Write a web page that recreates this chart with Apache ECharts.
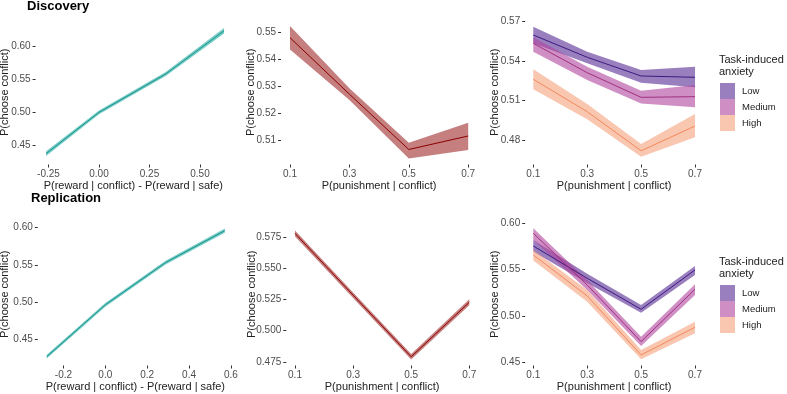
<!DOCTYPE html>
<html>
<head>
<meta charset="utf-8">
<script src="https://cdn.jsdelivr.net/npm/echarts@6/dist/echarts.min.js"></script>
<style>
  html, body { margin: 0; padding: 0; background: #fff; }
  #main { width: 787px; height: 394px; }
</style>
</head>
<body>
<div id="main"></div>
<script>
// x values
const punishX = [0.1, 0.3, 0.5, 0.7];
const discRewardX = [-0.262, 0.0, 0.33, 0.619];
const repRewardX = [-0.28, 0.0, 0.288, 0.571];

// Discovery
const discRewardY = [0.4379, 0.5005, 0.5586, 0.6242];
const discRewardLo = [0.4344, 0.4975, 0.5556, 0.6200];
const discRewardHi = [0.4414, 0.5035, 0.5616, 0.6284];

const discPunishY = [0.548, 0.5271, 0.5066, 0.5116];
const discPunishLo = [0.5436, 0.5249, 0.5033, 0.5064];
const discPunishHi = [0.5523, 0.5293, 0.5091, 0.5165];

const discLowY = [0.5599, 0.543, 0.5288, 0.5278];
const discLowLo = [0.5536, 0.5384, 0.5237, 0.5202];
const discLowHi = [0.5662, 0.5472, 0.5333, 0.5358];
const discMedY = [0.5536, 0.5313, 0.5126, 0.5131];
const discMedLo = [0.5472, 0.5257, 0.5080, 0.5050];
const discMedHi = [0.5582, 0.5358, 0.5176, 0.5219];
const discHighY = [0.5263, 0.5017, 0.4720, 0.4908];
const discHighLo = [0.5187, 0.4959, 0.4675, 0.4822];
const discHighHi = [0.5339, 0.5075, 0.4771, 0.4999];

// Replication
const repRewardY = [0.4266, 0.4964, 0.5531, 0.5960];
const repRewardLo = [0.4241, 0.4939, 0.5506, 0.5932];
const repRewardHi = [0.4291, 0.4989, 0.5556, 0.5988];

const repPunishY = [0.5777, 0.5283, 0.479, 0.5226];
const repPunishLo = [0.5753, 0.5261, 0.4768, 0.5202];
const repPunishHi = [0.5801, 0.5305, 0.4812, 0.5250];

const repLowY = [0.5755, 0.5406, 0.5071, 0.5496];
const repLowLo = [0.5693, 0.5356, 0.5035, 0.5442];
const repLowHi = [0.582, 0.5456, 0.5118, 0.5539];
const repMedY = [0.5892, 0.5334, 0.4722, 0.5287];
const repMedLo = [0.582, 0.528, 0.4675, 0.5226];
const repMedHi = [0.5946, 0.5388, 0.4775, 0.5341];
const repHighY = [0.5658, 0.5215, 0.4578, 0.4877];
const repHighLo = [0.5597, 0.5153, 0.4531, 0.4812];
const repHighHi = [0.5712, 0.528, 0.4632, 0.4937];

// tick labels
const rewardTicksDisc = [-0.25, 0, 0.25, 0.5];
const rewardTicksRep = [-0.2, 0, 0.2, 0.4, 0.6];
const punishTicks = [0.1, 0.3, 0.5, 0.7];
const yTicks1 = [0.45, 0.5, 0.55, 0.6];
const yTicks2 = [0.51, 0.52, 0.53, 0.54, 0.55];
const yTicks3 = [0.48, 0.51, 0.54, 0.57];
const yTicks4 = [0.45, 0.5, 0.55, 0.6];
const yTicks5 = [0.475, 0.5, 0.525, 0.55, 0.575];
const yTicks6 = [0.45, 0.5, 0.55, 0.6];

const groups = ['Low', 'Medium', 'High'];

const FONT = 'Liberation Sans, Arial, sans-serif';
const REWARD_NAME = 'P(reward | conflict) - P(reward | safe)';
const PUNISH_NAME = 'P(punishment | conflict)';

function xAxisFor(gridIndex, min, max, ticks, dec, name) {
    return {
        type: 'value', gridIndex: gridIndex, min: min, max: max,
        name: name, nameLocation: 'middle', nameGap: 16, nameMoveOverlap: false,
        nameTextStyle: { fontFamily: FONT, fontSize: 11, color: '#222', verticalAlign: 'top' },
        axisLine: { show: false, onZero: false },
        splitLine: { show: false },
        axisTick: { show: true, length: 3, customValues: ticks, lineStyle: { color: '#333' } },
        axisLabel: {
            customValues: ticks, margin: 5,
            fontFamily: FONT, fontSize: 10, color: '#4d4d4d',
            formatter: v => v.toFixed(dec)
        }
    };
}

function yAxisFor(gridIndex, min, max, ticks, dec, gap) {
    return {
        type: 'value', gridIndex: gridIndex, min: min, max: max,
        name: 'P(choose conflict)', nameLocation: 'middle', nameGap: gap, nameMoveOverlap: false,
        nameTextStyle: { fontFamily: FONT, fontSize: 11, color: '#222' },
        axisLine: { show: false, onZero: false },
        splitLine: { show: false },
        axisTick: { show: true, length: 3, customValues: ticks, lineStyle: { color: '#333' } },
        axisLabel: {
            customValues: ticks, margin: 5,
            fontFamily: FONT, fontSize: 10, color: '#4d4d4d',
            formatter: v => v.toFixed(dec)
        }
    };
}

// ribbon drawn as one polygon through the axis scales
function ribbon(axisIndex, xs, lo, hi, fill, name, keyColor) {
    return {
        type: 'custom',
        name: name,
        xAxisIndex: axisIndex, yAxisIndex: axisIndex,
        itemStyle: { color: keyColor || fill },
        data: xs.map((x, i) => [x, lo[i], hi[i]]),
        encode: { x: 0, y: [1, 2] },
        silent: true,
        z: 1,
        renderItem: function(params, api) {
            if (params.dataIndex !== 0) return null;
            let pts = [];
            for (let i = 0; i < xs.length; i++) pts.push(api.coord([xs[i], hi[i]]));
            for (let i = xs.length - 1; i >= 0; i--) pts.push(api.coord([xs[i], lo[i]]));
            return { type: 'polygon', shape: { points: pts }, style: { fill: fill } };
        }
    };
}

function line(axisIndex, xs, ys, color) {
    return {
        type: 'line',
        xAxisIndex: axisIndex, yAxisIndex: axisIndex,
        data: xs.map((x, i) => [x, ys[i]]),
        showSymbol: false,
        silent: true,
        z: 3,
        lineStyle: { color: color, width: 1 },
        itemStyle: { color: color }
    };
}

const teal = 'rgba(30,172,162,0.6)', tealLine = '#17918b';
const red = 'rgba(139,0,0,0.5)', redLine = '#8b0000';
const fills = ['rgba(87,42,148,0.6)', 'rgba(175,68,157,0.6)', 'rgba(245,160,123,0.6)'];
const keys = ['#9a7fbf', '#cf8fc4', '#f9c6b0'];
const lines = ['#3d1a80', '#a0307f', '#f4895c'];

const discAnx = [[discLowY, discLowLo, discLowHi], [discMedY, discMedLo, discMedHi], [discHighY, discHighLo, discHighHi]];
const repAnx = [[repLowY, repLowLo, repLowHi], [repMedY, repMedLo, repMedHi], [repHighY, repHighLo, repHighHi]];

let series = [
    ribbon(0, discRewardX, discRewardLo, discRewardHi, teal, 'reward1'),
    line(0, discRewardX, discRewardY, tealLine),
    ribbon(1, punishX, discPunishLo, discPunishHi, red, 'punish1'),
    line(1, punishX, discPunishY, redLine),
    ribbon(3, repRewardX, repRewardLo, repRewardHi, teal, 'reward2'),
    line(3, repRewardX, repRewardY, tealLine),
    ribbon(4, punishX, repPunishLo, repPunishHi, red, 'punish2'),
    line(4, punishX, repPunishY, redLine)
];
groups.forEach((g, k) => {
    series.push(ribbon(2, punishX, discAnx[k][1], discAnx[k][2], fills[k], g, keys[k]));
    series.push(ribbon(5, punishX, repAnx[k][1], repAnx[k][2], fills[k], g, keys[k]));
});
groups.forEach((g, k) => {
    series.push(line(2, punishX, discAnx[k][0], lines[k]));
    series.push(line(5, punishX, repAnx[k][0], lines[k]));
});

function legendFor(top) {
    return {
        data: groups, orient: 'vertical', left: 720, top: top,
        icon: 'rect', itemWidth: 15, itemHeight: 16, itemGap: 0, padding: 0,
        selectedMode: false,
        textStyle: { fontFamily: FONT, fontSize: 9.5, color: '#222', padding: [0, 0, 0, 2] }
    };
}

let myChart = echarts.init(document.getElementById('main'), null, { renderer: 'canvas' });
myChart.setOption({
    animation: false,
    backgroundColor: '#fff',
    title: [
        { text: 'Discovery', left: 27, top: 0, padding: 0, textStyle: { fontFamily: FONT, fontSize: 13, fontWeight: 'bold', color: '#000' } },
        { text: 'Replication', left: 31, top: 192, padding: 0, textStyle: { fontFamily: FONT, fontSize: 13, fontWeight: 'bold', color: '#000' } },
        { text: 'Task-induced\nanxiety', left: 719, top: 54, padding: 0, textStyle: { fontFamily: FONT, fontSize: 11, fontWeight: 'normal', color: '#222', lineHeight: 12 } },
        { text: 'Task-induced\nanxiety', left: 719, top: 256, padding: 0, textStyle: { fontFamily: FONT, fontSize: 11, fontWeight: 'normal', color: '#222', lineHeight: 12 } }
    ],
    legend: [legendFor(83), legendFor(285)],
    grid: [
        { left: 35.6, top: 20, width: 195.4, height: 144.5, outerBoundsMode: 'none' },
        { left: 281, top: 20, width: 196.2, height: 144.5, outerBoundsMode: 'none' },
        { left: 525.2, top: 20, width: 177.9, height: 144.5, outerBoundsMode: 'none' },
        { left: 37.8, top: 223, width: 195.1, height: 142.5, outerBoundsMode: 'none' },
        { left: 286.3, top: 223, width: 191.7, height: 142.5, outerBoundsMode: 'none' },
        { left: 525.2, top: 223, width: 177.9, height: 142.5, outerBoundsMode: 'none' }
    ],
    xAxis: [
        xAxisFor(0, -0.3139, 0.6535, rewardTicksDisc, 2, REWARD_NAME),
        xAxisFor(1, 0.0697, 0.7303, punishTicks, 1, PUNISH_NAME),
        xAxisFor(2, 0.07, 0.73, punishTicks, 1, PUNISH_NAME),
        xAxisFor(3, -0.3226, 0.6097, rewardTicksRep, 1, REWARD_NAME),
        xAxisFor(4, 0.07, 0.73, punishTicks, 1, PUNISH_NAME),
        xAxisFor(5, 0.07, 0.73, punishTicks, 1, PUNISH_NAME)
    ],
    yAxis: [
        yAxisFor(0, 0.4215, 0.6405, yTicks1, 2, 25),
        yAxisFor(1, 0.50104, 0.55456, yTicks2, 2, 25),
        yAxisFor(2, 0.4616, 0.5713, yTicks3, 2, 25),
        yAxisFor(3, 0.4148, 0.6063, yTicks4, 2, 27),
        yAxisFor(4, 0.472, 0.586, yTicks5, 3, 29),
        yAxisFor(5, 0.4464, 0.6003, yTicks6, 2, 25)
    ],
    series: series
});
</script>
</body>
</html>
